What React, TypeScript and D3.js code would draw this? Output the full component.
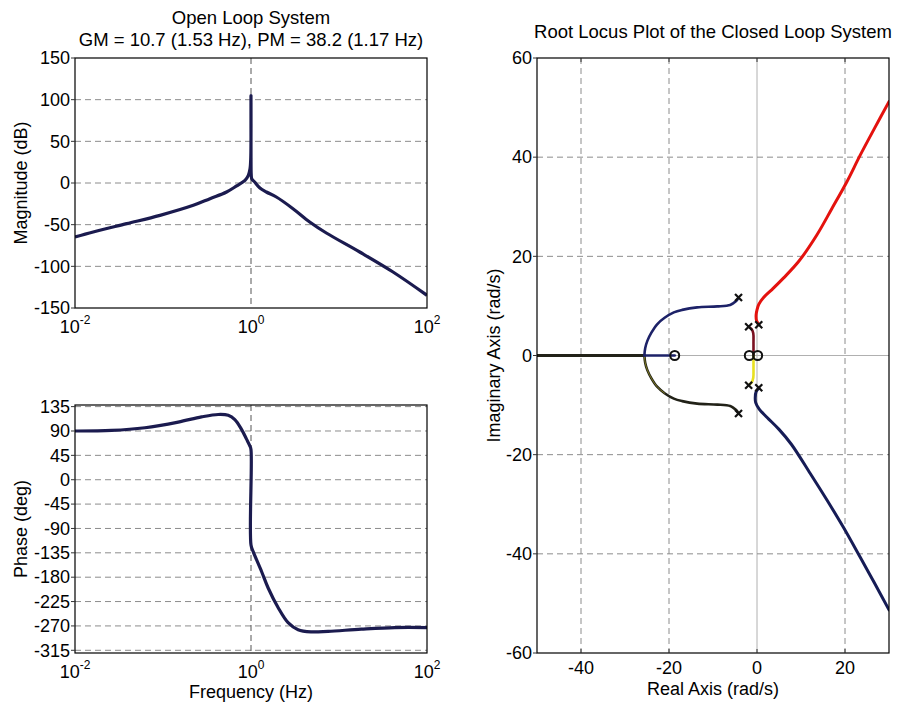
import React from 'react';
import * as d3 from 'd3';

// ---------- Bode magnitude (Hz, dB) ----------
const magFreq = [0.01, 0.0161, 0.0386, 0.0925, 0.221, 0.342, 0.528, 0.687, 0.855, 0.933, 0.975, 0.994, 0.9995, 1.0005, 1.006, 1.02, 1.101, 1.253, 1.493, 1.941, 3.0, 4.645, 7.18, 17.2, 41.1, 100];
const magDb = [-64.8, -58.8, -48.8, -38.8, -26.8, -18.8, -10.8, -3.5, 3.2, 9.2, 17, 30, 105, 30, 10, 5, 1.2, -5.6, -10.8, -16.8, -30.8, -46.8, -60, -82.8, -106.8, -134.8];

// ---------- Bode phase (Hz, deg) ----------
const phaseFreq = [0.01, 0.0261, 0.0624, 0.149, 0.274, 0.424, 0.551, 0.655, 0.78, 0.889, 0.97, 0.999, 1.0, 1.059, 1.315, 1.567, 2.03, 2.64, 3.43, 4.86, 7.52, 17.9, 43.0, 100];
const phaseDeg = [90, 91, 96, 106.5, 116, 120.5, 119, 111, 93, 75, 62.5, 56, -120.5, -132.7, -169, -200, -236, -264, -277, -281, -280, -276, -273, -273];

// ---------- ticks ----------
const freqTicks = [0.01, 1, 100];
const freqTickExp = ['-2', '0', '2'];
const magTicks = [150, 100, 50, 0, -50, -100, -150];
const phaseTicks = [135, 90, 45, 0, -45, -90, -135, -180, -225, -270, -315];
const reTicks = [-40, -20, 0, 20];
const imTicks = [60, 40, 20, 0, -20, -40, -60];

// ---------- root locus branches [re, im] ----------
const branchUpperC: [number, number][] = [[-4.2, 11.7], [-4.6, 11.1], [-5.3, 10.6], [-6.1, 10.2], [-9.0, 9.9], [-13.6, 9.7], [-17.0, 9.2], [-18.9, 8.7], [-21.0, 7.6], [-22.7, 6.3], [-24.0, 4.6], [-24.9, 3.0], [-25.4, 1.5], [-25.6, 0]];
const branchUpperReal: [number, number][] = [[-25.6, 0], [-18.7, 0]];
const branchLowerC: [number, number][] = [[-4.2, -11.7], [-4.6, -11.1], [-5.3, -10.6], [-6.1, -10.2], [-9.0, -9.9], [-13.6, -9.7], [-17.0, -9.2], [-18.9, -8.7], [-21.0, -7.6], [-22.7, -6.3], [-24.0, -4.6], [-24.9, -3.0], [-25.4, -1.5], [-25.6, 0]];
const branchLowerReal: [number, number][] = [[-25.6, 0], [-50, 0]];
const branchRed: [number, number][] = [[0.4, 6.3], [-0.1, 7.0], [-0.2, 8.2], [0, 9.2], [0.4, 10.3], [1.5, 11.7], [3.4, 13.3], [6.0, 15.6], [9.5, 19.0], [13.6, 24.3], [17.0, 29.6], [20.4, 35.0], [23.4, 40.3], [26.7, 45.8], [30, 51.2]];
const branchMaroon: [number, number][] = [[-1.9, 5.8], [-1.2, 5.3], [-0.85, 4.5], [-0.8, 2.5], [-0.8, 0]];
const branchYellow: [number, number][] = [[-1.9, -6.0], [-1.2, -5.4], [-0.85, -4.5], [-0.8, -2.5], [-0.8, 0]];
const branchBlueLow: [number, number][] = [[0.4, -6.6], [-0.2, -7.3], [-0.4, -8.5], [-0.3, -9.5], [0.5, -10.8], [2.3, -12.5], [5.0, -14.9], [7.8, -17.9], [12.1, -23.8], [16.0, -29.3], [19.6, -34.6], [23.4, -40.6], [26.7, -45.9], [30, -51.3]];
const polesRe = [-4.2, -4.2, -1.9, 0.4, -1.9, 0.4];
const polesIm = [11.7, -11.7, 5.8, 6.2, -6.0, -6.5];
const zerosRe = [-18.7, -1.75, 0.15];
const zerosIm = [0, 0, 0];

const FONT = "'Liberation Sans', Arial, Helvetica, sans-serif";
const GRID = '#8c8c8c';
const DASH = '6,4';
const NAVY = '#1b1b4f';

export default function App() {
  const magX = d3.scaleLog().domain([0.01, 100]).range([75, 427]);
  const magY = d3.scaleLinear().domain([-150, 150]).range([308, 58]);
  const phX = d3.scaleLog().domain([0.01, 100]).range([75, 427]);
  const phY = d3.scaleLinear().domain([-320, 138]).range([653, 405]);
  const rlX = d3.scaleLinear().domain([-50, 30]).range([537, 889]);
  const rlY = d3.scaleLinear().domain([-60, 60]).range([653, 58]);

  const magLine = d3.line<number>()
    .x((_, i) => magX(magFreq[i]))
    .y((d) => magY(d))
    .curve(d3.curveCatmullRom.alpha(0.5));
  const phLine = d3.line<number>()
    .x((_, i) => phX(phaseFreq[i]))
    .y((d) => phY(d))
    .curve(d3.curveCatmullRom.alpha(0.5));
  const rlLine = d3.line<[number, number]>()
    .x((d) => rlX(d[0]))
    .y((d) => rlY(d[1]))
    .curve(d3.curveCatmullRom.alpha(0.5));
  const rlStraight = d3.line<[number, number]>()
    .x((d) => rlX(d[0]))
    .y((d) => rlY(d[1]));

  const fs = 18;

  const freqAxisLabels = (xs: d3.ScaleLogarithmic<number, number>, yBase: number) =>
    freqTicks.map((t, i) => (
      <text key={'ft' + i} x={xs(t)} y={yBase} textAnchor="middle" fontSize={fs}>
        <tspan>10</tspan>
        <tspan dy={-9} fontSize={12}>{freqTickExp[i]}</tspan>
      </text>
    ));

  return (
    <svg width={901} height={709} style={{ position: 'absolute', left: 0, top: 0, background: '#fff' }} fontFamily={FONT}>
      <defs>
        <clipPath id="rlclip"><rect x={537} y={58} width={352} height={595} /></clipPath>
        <clipPath id="magclip"><rect x={75} y={58} width={352} height={250} /></clipPath>
        <clipPath id="phclip"><rect x={75} y={405} width={352} height={248} /></clipPath>
      </defs>
      <rect x={0} y={0} width={901} height={709} fill="#fff" />

      {/* ---------- Titles ---------- */}
      <text x={251} y={24} textAnchor="middle" fontSize={18.5}>Open Loop System</text>
      <text x={251} y={46} textAnchor="middle" fontSize={18.5}>GM = 10.7 (1.53 Hz), PM = 38.2 (1.17 Hz)</text>
      <text x={713} y={38} textAnchor="middle" fontSize={18.5}>Root Locus Plot of the Closed Loop System</text>

      {/* ---------- Magnitude plot ---------- */}
      <g>
        {magTicks.filter((t) => t !== 150 && t !== -150).map((t) => (
          <line key={'mg' + t} x1={75} x2={427} y1={magY(t)} y2={magY(t)} stroke={GRID} strokeDasharray={DASH} strokeWidth={1} />
        ))}
        <line x1={magX(1)} x2={magX(1)} y1={58} y2={308} stroke="#555" strokeDasharray={DASH} strokeWidth={1} />
        <path d={magLine(magDb) || ''} fill="none" stroke={NAVY} strokeWidth={3.2} strokeLinejoin="round" clipPath="url(#magclip)" />
        <rect x={75} y={58} width={352} height={250} fill="none" stroke="#000" strokeWidth={1.2} />
        {magTicks.map((t) => (
          <g key={'mt' + t}>
            <line x1={71} x2={75} y1={magY(t)} y2={magY(t)} stroke="#333" />
            <text x={70} y={magY(t)} dy="0.35em" textAnchor="end" fontSize={fs}>{t}</text>
          </g>
        ))}
        {freqAxisLabels(magX, 333)}
        <text transform={`translate(27,${(58 + 308) / 2}) rotate(-90)`} textAnchor="middle" fontSize={fs}>Magnitude (dB)</text>
      </g>

      {/* ---------- Phase plot ---------- */}
      <g>
        {phaseTicks.map((t) => (
          <line key={'pg' + t} x1={75} x2={427} y1={phY(t)} y2={phY(t)} stroke={GRID} strokeDasharray={DASH} strokeWidth={1} />
        ))}
        <line x1={phX(1)} x2={phX(1)} y1={405} y2={653} stroke="#555" strokeDasharray={DASH} strokeWidth={1} />
        <path d={phLine(phaseDeg) || ''} fill="none" stroke={NAVY} strokeWidth={3.2} strokeLinejoin="round" clipPath="url(#phclip)" />
        <rect x={75} y={405} width={352} height={248} fill="none" stroke="#000" strokeWidth={1.2} />
        {phaseTicks.map((t) => (
          <g key={'pt' + t}>
            <line x1={71} x2={75} y1={phY(t)} y2={phY(t)} stroke="#333" />
            <text x={70} y={phY(t)} dy="0.35em" textAnchor="end" fontSize={fs}>{t}</text>
          </g>
        ))}
        {freqAxisLabels(phX, 678)}
        <text x={251} y={698} textAnchor="middle" fontSize={fs}>Frequency (Hz)</text>
        <text transform={`translate(27,${(405 + 653) / 2}) rotate(-90)`} textAnchor="middle" fontSize={fs}>Phase (deg)</text>
      </g>

      {/* ---------- Root locus ---------- */}
      <g>
        {reTicks.map((t) => (
          <line key={'rg' + t} x1={rlX(t)} x2={rlX(t)} y1={58} y2={653}
            stroke={t === 0 ? '#b0b0b0' : GRID} strokeDasharray={t === 0 ? undefined : DASH} strokeWidth={1} />
        ))}
        {imTicks.filter((t) => t !== 60 && t !== -60).map((t) => (
          <line key={'ig' + t} x1={537} x2={889} y1={rlY(t)} y2={rlY(t)}
            stroke={t === 0 ? '#b0b0b0' : GRID} strokeDasharray={t === 0 ? undefined : DASH} strokeWidth={1} />
        ))}
        <g clipPath="url(#rlclip)" fill="none" strokeLinejoin="round" strokeLinecap="round">
          <path d={rlStraight(branchLowerReal) || ''} stroke="#222218" strokeWidth={2.8} />
          <path d={rlLine(branchLowerC) || ''} stroke="#222218" strokeWidth={2.6} />
          <path d={rlLine(branchLowerC.slice(8)) || ''} stroke="#d9cf2a" strokeWidth={1} opacity={0.5} />
          <path d={rlLine(branchUpperC) || ''} stroke="#1d2268" strokeWidth={2.6} />
          <path d={rlStraight(branchUpperReal) || ''} stroke="#1d2268" strokeWidth={2.6} />
          <path d={rlLine(branchMaroon) || ''} stroke="#7a1020" strokeWidth={2.6} />
          <path d={rlLine(branchYellow) || ''} stroke="#e8e020" strokeWidth={2.6} />
          <path d={rlLine(branchRed) || ''} stroke="#e4120e" strokeWidth={3} />
          <path d={rlLine(branchBlueLow) || ''} stroke="#161c56" strokeWidth={3} />
        </g>
        {zerosRe.map((r, i) => (
          <circle key={'z' + i} cx={rlX(r)} cy={rlY(zerosIm[i])} r={4.5} fill="none" stroke="#111" strokeWidth={2} />
        ))}
        {polesRe.map((r, i) => {
          const cx = rlX(r), cy = rlY(polesIm[i]), s = 3.5;
          return (
            <g key={'p' + i} stroke="#111" strokeWidth={2.2}>
              <line x1={cx - s} y1={cy - s} x2={cx + s} y2={cy + s} />
              <line x1={cx - s} y1={cy + s} x2={cx + s} y2={cy - s} />
            </g>
          );
        })}
        <rect x={537} y={58} width={352} height={595} fill="none" stroke="#000" strokeWidth={1.2} />
        {reTicks.map((t) => (
          <g key={'rt' + t}>
            <line x1={rlX(t)} x2={rlX(t)} y1={58} y2={62} stroke="#333" />
            <line x1={rlX(t)} x2={rlX(t)} y1={653} y2={649} stroke="#333" />
            <text x={rlX(t)} y={674} textAnchor="middle" fontSize={fs}>{t}</text>
          </g>
        ))}
        {imTicks.map((t) => (
          <g key={'it' + t}>
            <line x1={533} x2={537} y1={rlY(t)} y2={rlY(t)} stroke="#333" />
            <text x={532} y={rlY(t)} dy="0.35em" textAnchor="end" fontSize={fs}>{t}</text>
          </g>
        ))}
        <text x={713} y={695} textAnchor="middle" fontSize={fs}>Real Axis (rad/s)</text>
        <text transform={`translate(500,${(58 + 653) / 2}) rotate(-90)`} textAnchor="middle" fontSize={fs}>Imaginary Axis (rad/s)</text>
      </g>
    </svg>
  );
}
